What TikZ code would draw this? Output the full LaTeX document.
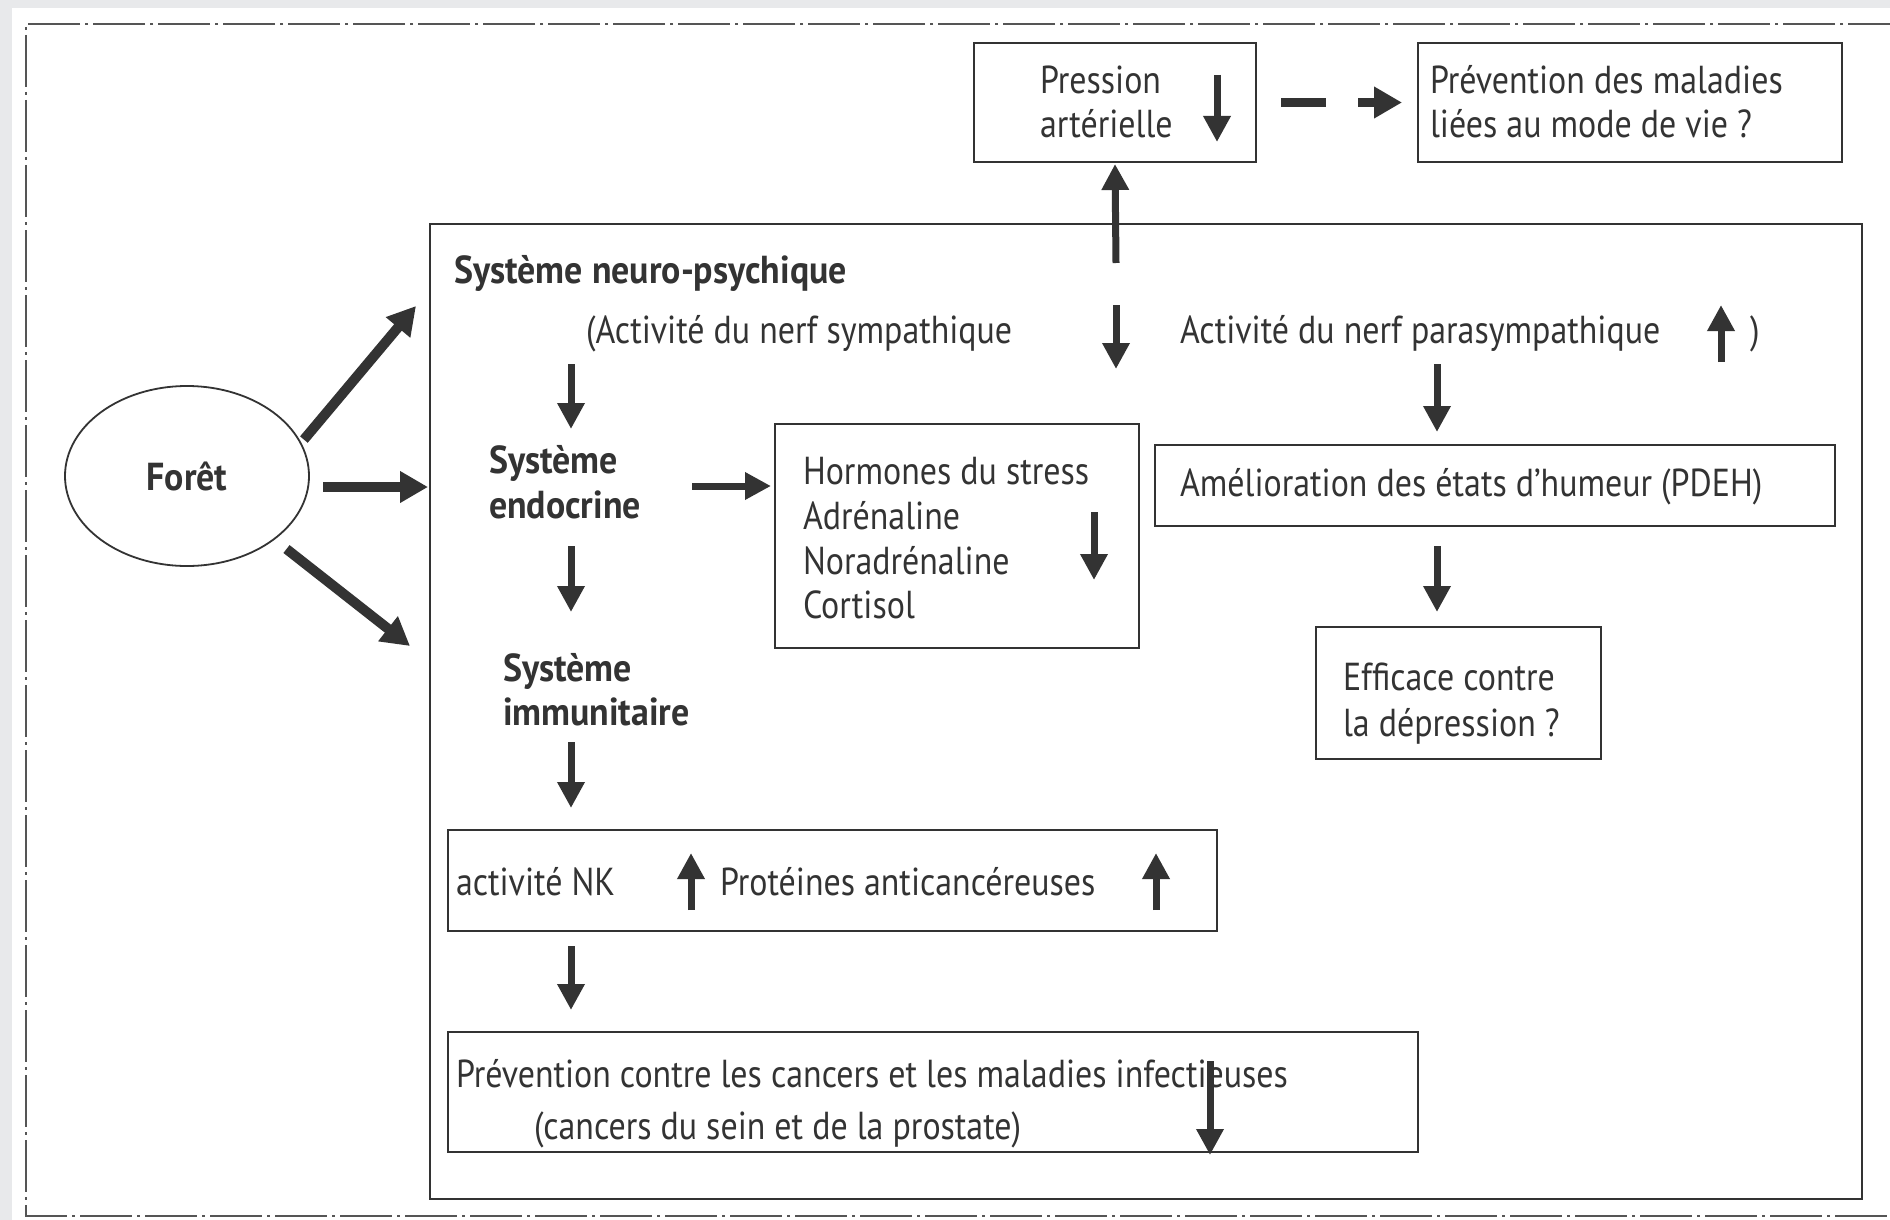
\documentclass[tikz,border=0pt]{standalone}
\usepackage{fontspec}
\setmainfont{PT Sans}[FakeStretch=0.87, BoldFeatures={FakeStretch=0.92}]
\usetikzlibrary{arrows.meta,shapes.geometric}
\definecolor{ink}{HTML}{333333}
\definecolor{bggray}{HTML}{E8E9EB}
\definecolor{framegray}{HTML}{555555}
\begin{document}
\begin{tikzpicture}[x=1pt,y=-1pt,
  every node/.style={inner sep=0pt, outer sep=0pt, text=ink},
  boxed/.style={draw=ink, line width=2pt, anchor=north west},
  txt/.style={font=\fontsize{39}{44.6}\selectfont, anchor=base west, yshift=-3pt},
  btxt/.style={font=\fontsize{39}{44.6}\selectfont\bfseries, anchor=base west, yshift=-3pt},
  bigarrow/.style={draw=ink, line width=7pt, -{Triangle[width=26pt,length=26pt]}},
  forestarrow/.style={draw=ink, line width=10pt, -{Triangle[width=30pt,length=28pt]}},
]
\useasboundingbox (0,0) rectangle (1890,1220);
\fill[bggray] (0,0) rectangle (1890,1220);
\fill[white] (12,8) rectangle (1890,1220);
\draw[framegray, line width=2.5pt, dash pattern=on 52pt off 5pt on 3pt off 5pt]
  (1900,24) -- (26,24) -- (26,1216) -- (1900,1216);

% boxes
\node[boxed, minimum width=282pt, minimum height=119pt] (press) at (974,43) {};
\node[boxed, minimum width=424pt, minimum height=119pt] (prev) at (1418,43) {};
\node[boxed, minimum width=1432pt, minimum height=975pt] (big) at (430,224) {};
\node[boxed, minimum width=364pt, minimum height=224pt] (horm) at (775,424) {};
\node[boxed, minimum width=680pt, minimum height=81pt] (amel) at (1155,445) {};
\node[boxed, minimum width=285pt, minimum height=132pt] (effi) at (1316,627) {};
\node[boxed, minimum width=769pt, minimum height=101pt] (nk) at (448,830) {};
\node[boxed, minimum width=970pt, minimum height=120pt] (prevc) at (448,1032) {};
\node[draw=ink, line width=1.8pt, ellipse, minimum width=244pt, minimum height=180pt,
  font=\fontsize{39}{44.6}\selectfont\bfseries] (foret) at (187,476) {\raisebox{-10pt}{Forêt}};

% texts
\node[txt] (pr1) at (1040,91) {Pression};
\node[txt] (pr2) at (1040,135) {artérielle};
\node[txt] (pv1) at (1430,91) {Prévention des maladies};
\node[txt] (pv2) at (1430,135) {liées au mode de vie ?};
\node[btxt] (neuro) at (454,280) {Système neuro-psychique};
\node[txt] (symp) at (586,340) {(Activité du nerf sympathique};
\node[txt] (para) at (1180,340) {Activité du nerf parasympathique};
\node[txt] (paren) at (1750,340) {)};
\node[btxt] (endo1) at (489,470) {Système};
\node[btxt] (endo2) at (489,515) {endocrine};
\node[txt] (h1) at (803,481) {Hormones du stress};
\node[txt] (h2) at (803,526) {Adrénaline};
\node[txt] (h3) at (803,571) {Noradrénaline};
\node[txt] (h4) at (803,615) {Cortisol};
\node[txt] (am) at (1180,493) {Amélioration des états d’humeur (PDEH)};
\node[txt] (ef1) at (1343,687) {Efficace contre};
\node[txt] (ef2) at (1343,733) {la dépression ?};
\node[btxt] (imm1) at (503,678) {Système};
\node[btxt] (imm2) at (503,722) {immunitaire};
\node[txt] (nkt) at (456,892) {activité NK};
\node[txt] (prot) at (720,892) {Protéines anticancéreuses};
\node[txt] (pc1) at (456,1084) {Prévention contre les cancers et les maladies infectieuses};
\node[txt] (pc2) at (534,1136) {(cancers du sein et de la prostate)};

% indicator arrows
\coordinate (a1s) at (1217,75);  \coordinate (a1e) at (1217,142);
\coordinate (a2s) at (1116,305); \coordinate (a2e) at (1116,369);
\coordinate (a3s) at (1721,362); \coordinate (a3e) at (1721,305);
\coordinate (a4s) at (1094,512); \coordinate (a4e) at (1094,580);
\coordinate (a5s) at (691,910);  \coordinate (a5e) at (691,853);
\coordinate (a6s) at (1156,910); \coordinate (a6e) at (1156,853);
\coordinate (a7s) at (1210,1061);\coordinate (a7e) at (1210,1155);
\foreach \i in {1,...,7} { \draw[bigarrow] (a\i s) -- (a\i e); }

% connectors
\coordinate (c0) at (1116,263);
\draw[bigarrow] (c0) -- ([yshift=-2pt]press.south);
\draw[bigarrow, line width=9pt, dash pattern=on 45pt off 32pt, shorten <=25pt, shorten >=16pt,
  -{Triangle[width=30pt,length=28pt]}] (press.east) -- (prev.west);
\coordinate (c1s) at (571,364); \coordinate (c1e) at (571,429);
\draw[bigarrow] (c1s) -- (c1e);
\coordinate (c2s) at (692,486);
\draw[bigarrow] (c2s) -- ([xshift=-4pt]horm.west |- c2s);
\coordinate (c3s) at (571,546); \coordinate (c3e) at (571,612);
\draw[bigarrow] (c3s) -- (c3e);
\coordinate (c4s) at (571,742); \coordinate (c4e) at (571,808);
\draw[bigarrow] (c4s) -- (c4e);
\coordinate (c5s) at (571,946); \coordinate (c5e) at (571,1010);
\draw[bigarrow] (c5s) -- (c5e);
\coordinate (c6s) at (1437,364); \coordinate (c6e) at (1437,432);
\draw[bigarrow] (c6s) -- (c6e);
\coordinate (c7s) at (1437,546); \coordinate (c7e) at (1437,612);
\draw[bigarrow] (c7s) -- (c7e);

% forest arrows
\coordinate (f1) at (416,306);
\coordinate (f2) at (428,487);
\coordinate (f3) at (410,646);
\draw[forestarrow, shorten <=5pt] (foret.16) -- (f1);
\draw[forestarrow] ([xshift=14pt,yshift=-11pt]foret.east) -- (f2);
\draw[forestarrow, shorten <=16pt] (foret.-36) -- (f3);
\end{tikzpicture}
\end{document}
